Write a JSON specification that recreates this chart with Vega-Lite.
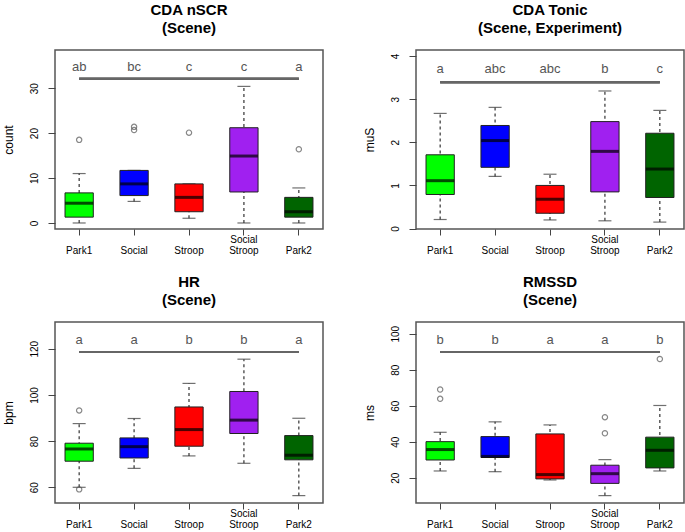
{
  "$schema": "https://vega.github.io/schema/vega-lite/v6.json",
  "padding": {"left": 1, "top": 2, "right": 0, "bottom": 0},
  "datasets": {
    "nscr": [
      {"group": "Park1", "lo": 0, "q1": 1.3, "med": 4.4, "q3": 6.7, "hi": 11.0, "letter": "ab"},
      {"group": "Social", "lo": 4.8, "q1": 6.1, "med": 8.7, "q3": 11.7, "hi": 11.7, "letter": "bc"},
      {"group": "Stroop", "lo": 1.05, "q1": 2.5, "med": 5.7, "q3": 8.7, "hi": 8.7, "letter": "c"},
      {"group": "Social Stroop", "lo": 0, "q1": 6.9, "med": 14.9, "q3": 21.2, "hi": 30.4, "letter": "c"},
      {"group": "Park2", "lo": 0, "q1": 1.3, "med": 2.5, "q3": 5.7, "hi": 7.8, "letter": "a"}
    ],
    "nscr_out": [
      {"group": "Park1", "v": 18.5},
      {"group": "Social", "v": 21.4},
      {"group": "Social", "v": 20.7},
      {"group": "Stroop", "v": 20.1},
      {"group": "Park2", "v": 16.4}
    ],
    "tonic": [
      {"group": "Park1", "lo": 0.21, "q1": 0.79, "med": 1.11, "q3": 1.71, "hi": 2.67, "letter": "a"},
      {"group": "Social", "lo": 1.21, "q1": 1.42, "med": 2.04, "q3": 2.39, "hi": 2.81, "letter": "abc"},
      {"group": "Stroop", "lo": 0.2, "q1": 0.355, "med": 0.68, "q3": 1.0, "hi": 1.26, "letter": "abc"},
      {"group": "Social Stroop", "lo": 0.18, "q1": 0.85, "med": 1.79, "q3": 2.48, "hi": 3.19, "letter": "b"},
      {"group": "Park2", "lo": 0.15, "q1": 0.72, "med": 1.38, "q3": 2.21, "hi": 2.74, "letter": "c"}
    ],
    "hr": [
      {"group": "Park1", "lo": 60, "q1": 71.3, "med": 76.6, "q3": 79.1, "hi": 87.6, "letter": "a"},
      {"group": "Social", "lo": 68.2, "q1": 72.7, "med": 77.6, "q3": 81.4, "hi": 89.8, "letter": "a"},
      {"group": "Stroop", "lo": 73.6, "q1": 77.8, "med": 85.0, "q3": 94.8, "hi": 105.0, "letter": "b"},
      {"group": "Social Stroop", "lo": 70.4, "q1": 83.3, "med": 89.1, "q3": 101.5, "hi": 115.5, "letter": "b"},
      {"group": "Park2", "lo": 56.4, "q1": 71.9, "med": 73.9, "q3": 82.4, "hi": 89.9, "letter": "a"}
    ],
    "hr_out": [
      {"group": "Park1", "v": 93.3},
      {"group": "Park1", "v": 59.1}
    ],
    "rmssd": [
      {"group": "Park1", "lo": 23.7, "q1": 29.8, "med": 35.6, "q3": 40.0, "hi": 45.2, "letter": "b"},
      {"group": "Social", "lo": 23.3, "q1": 31.2, "med": 31.8, "q3": 42.8, "hi": 51.0, "letter": "b"},
      {"group": "Stroop", "lo": 18.7, "q1": 19.3, "med": 21.7, "q3": 44.3, "hi": 49.3, "letter": "a"},
      {"group": "Social Stroop", "lo": 10.0, "q1": 16.8, "med": 22.2, "q3": 26.9, "hi": 30.0, "letter": "a"},
      {"group": "Park2", "lo": 23.7, "q1": 25.4, "med": 35.2, "q3": 42.5, "hi": 60.1, "letter": "b"}
    ],
    "rmssd_out": [
      {"group": "Park1", "v": 69.0},
      {"group": "Park1", "v": 63.8},
      {"group": "Social Stroop", "v": 53.6},
      {"group": "Social Stroop", "v": 44.7},
      {"group": "Park2", "v": 85.9}
    ]
  },
  "columns": 2,
  "spacing": {"row": 93, "column": 93},
  "bounds": "flush",
  "concat": [
    {
      "width": 268, "height": 179,
      "title": {"text": ["CDA nSCR", "(Scene)"]},
      "data": {"name": "nscr"},
      "encoding": {"x": {"field": "group", "type": "nominal", "sort": ["Park1", "Social", "Stroop", "Social Stroop", "Park2"], "scale": {"paddingInner": 0.485, "paddingOuter": 0.1825}, "title": null}},
      "layer": [
        {"mark": {"type": "rule", "strokeDash": [3, 3], "color": "#333", "strokeWidth": 1.2}, "encoding": {"y": {"field": "lo", "type": "quantitative", "title": "count", "scale": {"domain": [-1.34, 38.5], "nice": false, "zero": false}, "axis": {"values": [0, 10, 20, 30]}}, "y2": {"field": "hi"}}},
        {"mark": {"type": "tick", "color": "#333", "size": 13, "thickness": 1.2}, "encoding": {"y": {"field": "lo", "type": "quantitative", "title": "count"}}},
        {"mark": {"type": "tick", "color": "#333", "size": 13, "thickness": 1.2}, "encoding": {"y": {"field": "hi", "type": "quantitative", "title": "count"}}},
        {"mark": {"type": "bar", "stroke": "#222", "strokeWidth": 1}, "encoding": {"y": {"field": "q1", "type": "quantitative", "title": "count"}, "y2": {"field": "q3"}, "color": {"field": "group", "type": "nominal", "scale": {"domain": ["Park1", "Social", "Stroop", "Social Stroop", "Park2"], "range": ["#00FF00", "#0000FF", "#FF0000", "#A020F0", "#006400"]}, "legend": null}}},
        {"mark": {"type": "tick", "color": "black", "size": 28, "thickness": 3}, "encoding": {"y": {"field": "med", "type": "quantitative", "title": "count"}}},
        {"data": {"name": "nscr_out"}, "mark": {"type": "point", "shape": "circle", "filled": false, "color": "#555", "size": 28, "strokeWidth": 1.2}, "encoding": {"y": {"field": "v", "type": "quantitative", "title": "count"}}},
        {"mark": {"type": "text", "fontSize": 13, "color": "#555"}, "encoding": {"y": {"datum": 34.8, "type": "quantitative"}, "text": {"field": "letter"}}},
        {"mark": {"type": "rule", "color": "#666", "strokeWidth": 2}, "encoding": {"x": {"datum": "Park1"}, "x2": {"datum": "Park2"}, "y": {"datum": 32.1, "type": "quantitative"}}}
      ]
    },
    {
      "width": 268, "height": 179,
      "title": {"text": ["CDA Tonic", "(Scene, Experiment)"]},
      "data": {"name": "tonic"},
      "encoding": {"x": {"field": "group", "type": "nominal", "sort": ["Park1", "Social", "Stroop", "Social Stroop", "Park2"], "scale": {"paddingInner": 0.485, "paddingOuter": 0.1825}, "title": null}},
      "layer": [
        {"mark": {"type": "rule", "strokeDash": [3, 3], "color": "#333", "strokeWidth": 1.2}, "encoding": {"y": {"field": "lo", "type": "quantitative", "title": "muS", "scale": {"domain": [-0.01, 4.14], "nice": false, "zero": false}, "axis": {"values": [0, 1, 2, 3, 4]}}, "y2": {"field": "hi"}}},
        {"mark": {"type": "tick", "color": "#333", "size": 13, "thickness": 1.2}, "encoding": {"y": {"field": "lo", "type": "quantitative", "title": "muS"}}},
        {"mark": {"type": "tick", "color": "#333", "size": 13, "thickness": 1.2}, "encoding": {"y": {"field": "hi", "type": "quantitative", "title": "muS"}}},
        {"mark": {"type": "bar", "stroke": "#222", "strokeWidth": 1}, "encoding": {"y": {"field": "q1", "type": "quantitative", "title": "muS"}, "y2": {"field": "q3"}, "color": {"field": "group", "type": "nominal", "scale": {"domain": ["Park1", "Social", "Stroop", "Social Stroop", "Park2"], "range": ["#00FF00", "#0000FF", "#FF0000", "#A020F0", "#006400"]}, "legend": null}}},
        {"mark": {"type": "tick", "color": "black", "size": 28, "thickness": 3}, "encoding": {"y": {"field": "med", "type": "quantitative", "title": "muS"}}},
        {"mark": {"type": "text", "fontSize": 13, "color": "#555"}, "encoding": {"y": {"datum": 3.70, "type": "quantitative"}, "text": {"field": "letter"}}},
        {"mark": {"type": "rule", "color": "#666", "strokeWidth": 2}, "encoding": {"x": {"datum": "Park1"}, "x2": {"datum": "Park2"}, "y": {"datum": 3.39, "type": "quantitative"}}}
      ]
    },
    {
      "width": 268, "height": 181,
      "title": {"text": ["HR", "(Scene)"]},
      "data": {"name": "hr"},
      "encoding": {"x": {"field": "group", "type": "nominal", "sort": ["Park1", "Social", "Stroop", "Social Stroop", "Park2"], "scale": {"paddingInner": 0.485, "paddingOuter": 0.1825}, "title": null}},
      "layer": [
        {"mark": {"type": "rule", "strokeDash": [3, 3], "color": "#333", "strokeWidth": 1.2}, "encoding": {"y": {"field": "lo", "type": "quantitative", "title": "bpm", "scale": {"domain": [53.2, 131.6], "nice": false, "zero": false}, "axis": {"values": [60, 70, 80, 90, 100, 110, 120, 130], "labelExpr": "datum.value == 110 || datum.value == 130 ? '' : datum.label"}}, "y2": {"field": "hi"}}},
        {"mark": {"type": "tick", "color": "#333", "size": 13, "thickness": 1.2}, "encoding": {"y": {"field": "lo", "type": "quantitative", "title": "bpm"}}},
        {"mark": {"type": "tick", "color": "#333", "size": 13, "thickness": 1.2}, "encoding": {"y": {"field": "hi", "type": "quantitative", "title": "bpm"}}},
        {"mark": {"type": "bar", "stroke": "#222", "strokeWidth": 1}, "encoding": {"y": {"field": "q1", "type": "quantitative", "title": "bpm"}, "y2": {"field": "q3"}, "color": {"field": "group", "type": "nominal", "scale": {"domain": ["Park1", "Social", "Stroop", "Social Stroop", "Park2"], "range": ["#00FF00", "#0000FF", "#FF0000", "#A020F0", "#006400"]}, "legend": null}}},
        {"mark": {"type": "tick", "color": "black", "size": 28, "thickness": 3}, "encoding": {"y": {"field": "med", "type": "quantitative", "title": "bpm"}}},
        {"data": {"name": "hr_out"}, "mark": {"type": "point", "shape": "circle", "filled": false, "color": "#555", "size": 28, "strokeWidth": 1.2}, "encoding": {"y": {"field": "v", "type": "quantitative", "title": "bpm"}}},
        {"mark": {"type": "text", "fontSize": 13, "color": "#555"}, "encoding": {"y": {"datum": 123.8, "type": "quantitative"}, "text": {"field": "letter"}}},
        {"mark": {"type": "rule", "color": "#666", "strokeWidth": 2}, "encoding": {"x": {"datum": "Park1"}, "x2": {"datum": "Park2"}, "y": {"datum": 118.6, "type": "quantitative"}}}
      ]
    },
    {
      "width": 268, "height": 181,
      "title": {"text": ["RMSSD", "(Scene)"]},
      "data": {"name": "rmssd"},
      "encoding": {"x": {"field": "group", "type": "nominal", "sort": ["Park1", "Social", "Stroop", "Social Stroop", "Park2"], "scale": {"paddingInner": 0.485, "paddingOuter": 0.1825}, "title": null}},
      "layer": [
        {"mark": {"type": "rule", "strokeDash": [3, 3], "color": "#333", "strokeWidth": 1.2}, "encoding": {"y": {"field": "lo", "type": "quantitative", "title": "ms", "scale": {"domain": [5.9, 106.5], "nice": false, "zero": false}, "axis": {"values": [20, 40, 60, 80, 100]}}, "y2": {"field": "hi"}}},
        {"mark": {"type": "tick", "color": "#333", "size": 13, "thickness": 1.2}, "encoding": {"y": {"field": "lo", "type": "quantitative", "title": "ms"}}},
        {"mark": {"type": "tick", "color": "#333", "size": 13, "thickness": 1.2}, "encoding": {"y": {"field": "hi", "type": "quantitative", "title": "ms"}}},
        {"mark": {"type": "bar", "stroke": "#222", "strokeWidth": 1}, "encoding": {"y": {"field": "q1", "type": "quantitative", "title": "ms"}, "y2": {"field": "q3"}, "color": {"field": "group", "type": "nominal", "scale": {"domain": ["Park1", "Social", "Stroop", "Social Stroop", "Park2"], "range": ["#00FF00", "#0000FF", "#FF0000", "#A020F0", "#006400"]}, "legend": null}}},
        {"mark": {"type": "tick", "color": "black", "size": 28, "thickness": 3}, "encoding": {"y": {"field": "med", "type": "quantitative", "title": "ms"}}},
        {"data": {"name": "rmssd_out"}, "mark": {"type": "point", "shape": "circle", "filled": false, "color": "#555", "size": 28, "strokeWidth": 1.2}, "encoding": {"y": {"field": "v", "type": "quantitative", "title": "ms"}}},
        {"mark": {"type": "text", "fontSize": 13, "color": "#555"}, "encoding": {"y": {"datum": 96.5, "type": "quantitative"}, "text": {"field": "letter"}}},
        {"mark": {"type": "rule", "color": "#666", "strokeWidth": 2}, "encoding": {"x": {"datum": "Park1"}, "x2": {"datum": "Park2"}, "y": {"datum": 89.8, "type": "quantitative"}}}
      ]
    }
  ],
  "config": {
    "font": "Liberation Sans",
    "background": "white",
    "view": {"stroke": "#555", "strokeWidth": 1.5},
    "title": {"fontSize": 15, "fontWeight": "bold", "color": "black", "lineHeight": 18, "offset": 14, "anchor": "middle"},
    "axis": {"grid": false, "domain": false, "tickColor": "#444", "tickWidth": 1, "labelColor": "black", "labelFontSize": 10, "titleFontSize": 12, "titleFontWeight": "normal", "titleColor": "black"},
    "axisX": {"tickSize": 6, "labelAngle": 0, "labelBaseline": "top", "labelPadding": -1, "labelLineHeight": 11, "labelExpr": "datum.label == 'Social Stroop' ? ['Social', 'Stroop'] : ['', datum.label]"},
    "axisY": {"tickSize": 7, "labelAngle": -90, "labelAlign": "center", "labelBaseline": "bottom", "labelPadding": 9, "titlePadding": 14}
  }
}
